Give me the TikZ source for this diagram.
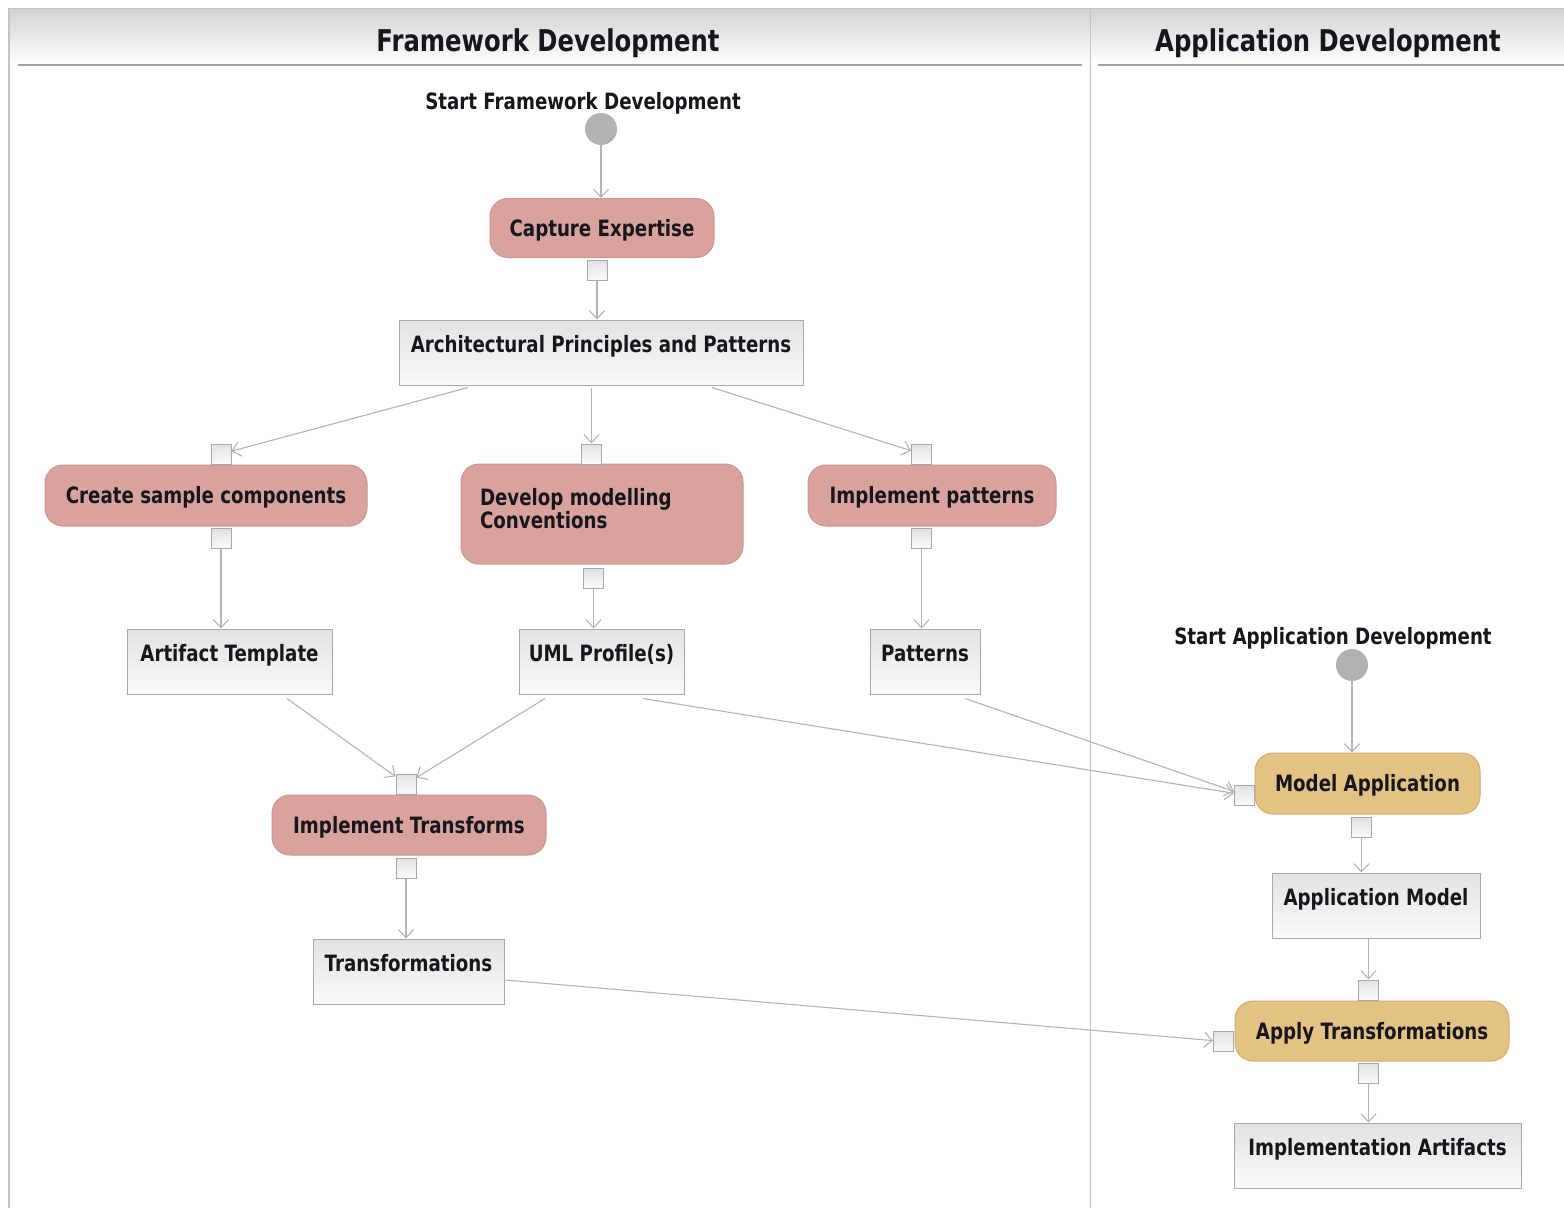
\documentclass[tikz,border=0pt]{standalone}
\usepackage{fontspec}
\setmainfont{DejaVu Sans}[FakeStretch=0.81]
\usetikzlibrary{arrows.meta,calc}

\definecolor{ink}{HTML}{16161E}
\definecolor{edgegray}{HTML}{B4B4B4}
\definecolor{pinkfill}{HTML}{D9A29C}
\definecolor{pinkline}{HTML}{CB9790}
\definecolor{tanfill}{HTML}{E4C283}
\definecolor{tanline}{HTML}{D1AE6E}
\definecolor{objline}{HTML}{A9A9A9}
\definecolor{objtop}{HTML}{E2E2E2}
\definecolor{objbottom}{HTML}{FAFAFA}
\definecolor{dotgray}{HTML}{B2B2B2}
\definecolor{lanegray}{HTML}{C4C4C4}
\definecolor{headtop}{HTML}{D2D2D2}
\definecolor{headline}{HTML}{A4A4A4}

\newcommand{\dgmfont}{\fontsize{22.5}{23}\selectfont\bfseries}
\newcommand{\lanefont}{\fontsize{30}{32}\selectfont\bfseries}

\begin{document}
\begin{tikzpicture}[x=1pt,y=-1pt,
  every node/.style={text=ink},
  actbase/.style={rounded corners=18pt, line width=1pt, inner sep=0pt, font=\dgmfont},
  actbox/.style={actbase, text height=16.4pt, text depth=0pt},
  pinkact/.style={fill=pinkfill, draw=pinkline},
  tanact/.style={fill=tanfill, draw=tanline},
  objbox/.style={draw=objline, line width=1pt, top color=objtop, bottom color=objbottom,
    inner xsep=0pt, inner ysep=0pt, text height=32.2pt, text depth=32.8pt, font=\dgmfont},
  pinbox/.style={draw=objline, line width=1pt, top color=objtop, bottom color=objbottom,
    minimum size=20pt, inner sep=0pt},
  startdot/.style={circle, fill=dotgray, minimum size=32pt, inner sep=0pt},
  plaintext/.style={inner sep=0pt, font=\dgmfont, text height=16.4pt, text depth=0pt},
  lanetitle/.style={inner sep=0pt, font=\lanefont, text height=21.9pt, text depth=0pt},
  conn/.style={draw=edgegray, line width=1.1pt,
    -{Straight Barb[length=8pt,width=15pt,line width=1.1pt]}}
]
\useasboundingbox (0,0) rectangle (1564,1208);
\fill[white] (0,0) rectangle (1564,1208);

% swimlane headers and borders
\shade[top color=headtop, bottom color=white] (10,8) rectangle (1564,65);
\draw[lanegray, line width=1pt] (10,8) -- (1564,8);
\draw[lanegray, line width=2pt] (9,8) -- (9,1208);
\draw[lanegray, line width=1pt] (1090,8) -- (1090,1208);
\draw[headline, line width=1.5pt] (18,65) -- (1082,65);
\draw[headline, line width=1.5pt] (1098,65) -- (1564,65);
\node[lanetitle] (lane1) at (548,41) {Framework Development};
\node[lanetitle] (lane2) at (1328,41) {Application Development};

% framework development lane
\node[plaintext] (s1label) at (583,101) {Start Framework Development};
\node[startdot] (s1) at (601,129) {};

\node[actbox, pinkact, minimum width=224pt, minimum height=59pt] (ce) at (602,228) {Capture Expertise};
\node[objbox, minimum width=404pt] (arch) at (601,352.5) {Architectural Principles and Patterns};

\node[actbox, pinkact, minimum width=322pt, minimum height=61pt] (csc) at (206,495.5) {Create sample components};
\node[actbase, pinkact, minimum width=282pt, minimum height=100pt, inner xsep=19pt] (dmc) at (602,514)
  {\parbox[c][100pt][t]{244pt}{\raggedright\vspace*{24pt}Develop modelling\\Conventions}};
\node[actbox, pinkact, minimum width=248pt, minimum height=61pt] (ip) at (932,495.5) {Implement patterns};

\node[objbox, minimum width=205pt] (art) at (229.5,661.5) {Artifact Template};
\node[objbox, minimum width=165pt] (uml) at (601.5,661.5) {UML Profile(s)};
\node[objbox, minimum width=110pt] (pat) at (925,661.5) {Patterns};

\node[actbox, pinkact, minimum width=274pt, minimum height=60pt] (it) at (409,825) {Implement Transforms};
\node[objbox, minimum width=191pt] (trans) at (408.5,971.5) {Transformations};

% application development lane
\node[plaintext] (s2label) at (1333,636) {Start Application Development};
\node[startdot] (s2) at (1352,665) {};

\node[actbox, tanact, minimum width=225pt, minimum height=61pt] (ma) at (1367.5,783.5) {Model Application};
\node[objbox, minimum width=208pt] (am) at (1376,905.5) {Application Model};
\node[actbox, tanact, minimum width=274pt, minimum height=60pt] (at) at (1372,1031) {Apply Transformations};
\node[objbox, minimum width=287pt] (ia) at (1377.5,1155.5) {Implementation Artifacts};

% input and output pins
\node[pinbox] (ce-out)  at (597,270) {};
\node[pinbox] (csc-in)  at (221,454) {};
\node[pinbox] (dmc-in)  at (591.5,454) {};
\node[pinbox] (ip-in)   at (921.5,454) {};
\node[pinbox] (csc-out) at (221,538) {};
\node[pinbox] (dmc-out) at (593.5,578) {};
\node[pinbox] (ip-out)  at (921.5,538) {};
\node[pinbox] (it-in)   at (406,784) {};
\node[pinbox] (it-out)  at (406,868) {};
\node[pinbox] (ma-in)   at (1244.5,795) {};
\node[pinbox] (ma-out)  at (1361.5,827) {};
\node[pinbox] (at-top)  at (1368.5,990) {};
\node[pinbox] (at-in)   at (1223.5,1041.5) {};
\node[pinbox] (at-out)  at (1368.5,1073) {};

% control and object flows
\draw[conn] (s1) -- (s1 |- ce.north);
\draw[conn] (ce-out) -- (ce-out |- arch.north);
\draw[conn] ($(arch.south)+(-133,2)$) -- (csc-in);
\draw[conn] ($(dmc-in |- arch.south)+(0,2)$) -- (dmc-in);
\draw[conn] ($(arch.south)+(111,2)$) -- (ip-in);
\draw[conn] (csc-out) -- (csc-out |- art.north);
\draw[conn] (dmc-out) -- (dmc-out |- uml.north);
\draw[conn] (ip-out) -- (ip-out |- pat.north);
\draw[conn] ($(art.south)+(57.5,4)$) -- (it-in);
\draw[conn] ($(uml.south)+(-56.5,4)$) -- (it-in);
\draw[conn] ($(uml.south)+(41.5,4)$) -- (ma-in);
\draw[conn] ($(pat.south)+(40,4)$) -- (ma-in);
\draw[conn] (it-out) -- (it-out |- trans.north);
\draw[conn] ($(trans.east)+(1,8.5)$) -- (at-in);
\draw[conn] (s2) -- (s2 |- ma.north);
\draw[conn] (ma-out) -- (ma-out |- am.north);
\draw[conn] (at-top |- am.south) -- (at-top);
\draw[conn] (at-out) -- (at-out |- ia.north);
\end{tikzpicture}
\end{document}
